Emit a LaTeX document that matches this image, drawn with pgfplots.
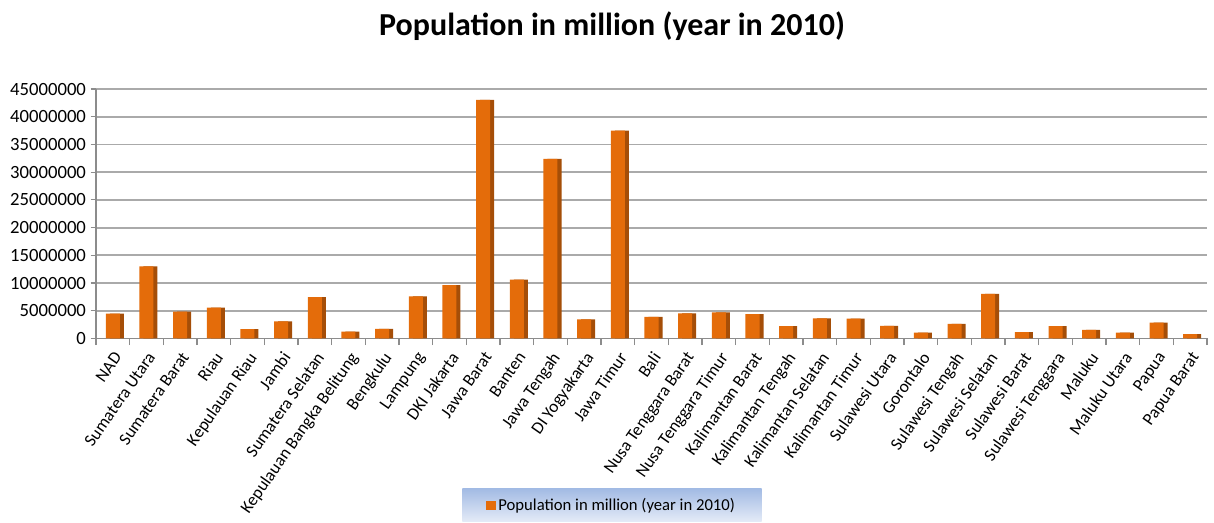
\documentclass[border=0pt]{standalone}
\usepackage{fontspec}
\setmainfont{Carlito}
\usepackage{pgfplots}
\pgfplotsset{compat=1.18}
\definecolor{barfront}{RGB}{228,108,10}
\definecolor{barside}{RGB}{165,78,8}
\definecolor{gridc}{RGB}{170,170,170}
\definecolor{axisc}{RGB}{140,140,140}
\definecolor{legtop}{RGB}{163,187,228}
\definecolor{legbot}{RGB}{228,235,247}
\pgfplotstableread{
x y
0 4494410
1 12982204
2 4846909
3 5538367
4 1679163
5 3092265
6 7450394
7 1223296
8 1715518
9 7608405
10 9607787
11 43053732
12 10632166
13 32382657
14 3457491
15 37476757
16 3890757
17 4500212
18 4683827
19 4395983
20 2212089
21 3626616
22 3553143
23 2270596
24 1040164
25 2635009
26 8034776
27 1158651
28 2232586
29 1533506
30 1038087
31 2833381
32 760422
}\popdata
\begin{document}
\begin{tikzpicture}
\begin{axis}[
  scale only axis, width=833pt, height=187pt,
  xmin=-0.5, xmax=32.5, ymin=0, ymax=45000000,
  ytick={0,5000000,10000000,15000000,20000000,25000000,30000000,35000000,40000000,45000000},
  scaled y ticks=false,
  y tick label style={/pgf/number format/fixed, /pgf/number format/precision=0, /pgf/number format/1000 sep={}, /pgf/number format/assume math mode=true, font=\fontsize{14}{16}\selectfont},
  xtick={0,...,32},
  xticklabels={NAD, Sumatera Utara, Sumatera Barat, Riau, Kepulauan Riau, Jambi, Sumatera Selatan, Kepulauan Bangka Belitung, Bengkulu, Lampung, DKI Jakarta, Jawa Barat, Banten, Jawa Tengah, DI Yogyakarta, Jawa Timur, Bali, Nusa Tenggara Barat, Nusa Tenggara Timur, Kalimantan Barat, Kalimantan Tengah, Kalimantan Selatan, Kalimantan Timur, Sulawesi Utara, Gorontalo, Sulawesi Tengah, Sulawesi Selatan, Sulawesi Barat, Sulawesi Tenggara, Maluku, Maluku Utara, Papua, Papua Barat},
  x tick label style={rotate=55, anchor=north east, font=\fontsize{13}{15}\selectfont, inner sep=1pt, xshift=-3pt, yshift=-2pt},
  major x tick style={draw=none},
  minor xtick={-0.5,0.5,...,32.5},
  xtick align=outside, ytick align=outside,
  major tick length=4pt, minor tick length=5pt,
  ymajorgrids, grid style={gridc, line width=1.4pt},
  axis x line*=bottom, axis y line*=left,
  axis line style={axisc, line width=0.9pt, -},
  tick style={axisc, line width=0.8pt},
  ybar, bar width=10.5pt,
  clip=false,
  legend style={at={(rel axis cs:0.4645,-0.602)}, anchor=north, draw=none,
    top color=legtop, bottom color=legbot,
    font=\fontsize{12.5}{15}\selectfont, inner xsep=18pt, inner ysep=5pt},
  legend image code/.code={\fill[barfront] (0pt,-3.5pt) rectangle (7pt,3.5pt);},
]
\addplot[ybar, fill=barside, draw=none, bar shift=3pt, forget plot] table[x=x,y=y] {\popdata};
\addplot[ybar, fill=barfront, draw=none, bar shift=0pt] table[x=x,y=y] {\popdata};
\addlegendentry{Population in million (year in 2010)}
\path (rel axis cs:-0.0864,-0.739) rectangle (rel axis cs:1.0063,1.357);
\node[font=\fontsize{24}{28}\selectfont\bfseries, anchor=base] at (rel axis cs:0.4645,1.215) {Population in million (year in 2010)};
\end{axis}
\end{tikzpicture}
\end{document}
